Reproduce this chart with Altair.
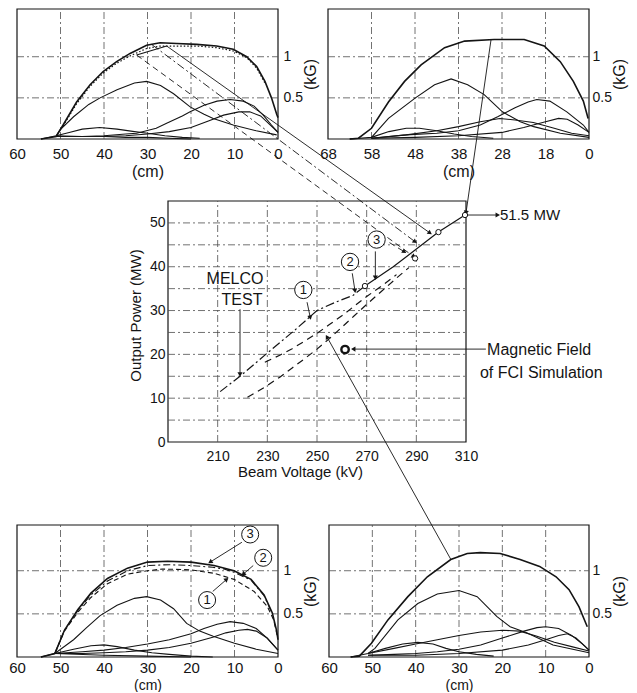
import math
import altair as alt
import pandas as pd

FONT = "Liberation Sans"
INK = "#141414"
GRID_INK = "#4e4e4e"
W, H = 621, 677

# plot-area placement of the five panels inside one frame (pixels)
TOP_LEFT_X = [9, 270]
TOP_RIGHT_X = [320, 581]
TOP_Y = [131, 1]
BOT_LEFT_X = [9, 270]
BOT_RIGHT_X = [321, 581]
BOT_Y = [649, 517]
MID_X = [160, 458]
MID_Y = [434, 193]

# ---------------- data ----------------
# top-left panel: axial position (cm) -> field (kG)
tl_total = [(54.5, 0.0), (51.0, 0.03), (49.4, 0.17), (46.3, 0.45), (43.2, 0.66), (40.2, 0.82),
            (37.1, 0.94), (34.0, 1.04), (30.2, 1.14), (27.1, 1.17), (23.3, 1.16), (18.7, 1.15),
            (14.1, 1.13), (10.3, 1.09), (7.2, 1.00), (4.9, 0.88), (3.0, 0.70), (1.5, 0.50),
            (0.3, 0.30), (0.0, 0.26)]
tl_total_dotted = [(49.4, 0.16), (46.3, 0.43), (43.2, 0.64), (40.2, 0.80), (37.1, 0.92), (34.0, 1.01),
                   (30.2, 1.10), (27.1, 1.13), (23.3, 1.13), (18.7, 1.13), (14.1, 1.11), (10.3, 1.07),
                   (7.2, 0.99), (4.9, 0.86), (3.0, 0.68)]
tl_kink = [(32.5, 1.02), (25.6, 1.13)]
tl_coil_b = [(54.5, 0.0), (51.0, 0.04), (50.1, 0.11), (47.0, 0.27), (43.5, 0.42), (40.9, 0.50),
             (37.0, 0.60), (33.0, 0.68), (30.2, 0.70), (27.0, 0.65), (24.0, 0.55), (20.2, 0.39),
             (17.0, 0.30), (14.9, 0.25), (10.3, 0.17), (5.0, 0.10), (0.3, 0.05)]
tl_coil_c = [(51.0, 0.03), (45.0, 0.03), (40.0, 0.04), (35.0, 0.06), (32.5, 0.07), (28.0, 0.13),
             (25.6, 0.19), (22.0, 0.28), (20.2, 0.33), (17.0, 0.41), (14.0, 0.46), (11.0, 0.48),
             (8.0, 0.46), (5.5, 0.40), (3.4, 0.29), (1.5, 0.17), (0.0, 0.08)]
tl_coil_d = [(51.0, 0.03), (45.0, 0.03), (40.0, 0.03), (35.0, 0.04), (30.0, 0.06), (25.0, 0.09),
             (20.0, 0.14), (16.0, 0.22), (12.5, 0.29), (9.0, 0.33), (6.5, 0.33), (4.0, 0.28),
             (2.0, 0.18), (0.0, 0.08)]
tl_coil_e = [(51.0, 0.04), (48.0, 0.08), (45.0, 0.12), (41.0, 0.14), (37.0, 0.12), (33.0, 0.09),
             (30.0, 0.07), (26.0, 0.04), (22.0, 0.02), (18.0, 0.01)]
tl_coil_f = [(51.0, 0.04), (45.0, 0.03), (40.0, 0.03), (35.0, 0.02), (30.0, 0.02), (25.0, 0.01), (20.0, 0.0)]

# top-right panel (position on the shifted scale, labels 68 ... 18, 0)
tr_total = [(55.0, 0.0), (53.0, 0.01), (50.0, 0.13), (46.1, 0.45), (42.4, 0.70), (38.6, 0.90),
            (33.2, 1.11), (28.6, 1.19), (21.8, 1.21), (14.9, 1.21), (10.3, 1.13), (6.6, 0.94),
            (3.6, 0.70), (1.3, 0.46), (0.2, 0.25)]
tr_coil_b = [(55.0, 0.0), (50.0, 0.02), (46.1, 0.25), (39.9, 0.50), (35.5, 0.66), (31.7, 0.73),
             (27.9, 0.66), (24.1, 0.54), (19.9, 0.33), (15.8, 0.21), (12.7, 0.15), (6.6, 0.07), (0.0, 0.02)]
tr_coil_c = [(50.0, 0.01), (42.0, 0.05), (35.0, 0.07), (30.0, 0.10), (25.0, 0.17), (21.0, 0.27),
             (17.0, 0.38), (14.0, 0.45), (12.0, 0.48), (9.0, 0.46), (5.1, 0.33), (1.3, 0.17), (0.0, 0.08)]
tr_coil_d = [(50.0, 0.01), (40.0, 0.02), (30.0, 0.04), (20.0, 0.08), (15.0, 0.14), (10.0, 0.21),
             (7.0, 0.25), (5.0, 0.24), (2.5, 0.17), (0.0, 0.08)]
tr_coil_f = [(50.0, 0.01), (42.0, 0.05), (35.0, 0.10), (30.0, 0.15), (25.0, 0.21), (20.5, 0.25),
             (17.0, 0.23), (12.8, 0.20), (8.0, 0.13), (4.0, 0.07), (0.0, 0.04)]
tr_coil_e = [(50.0, 0.02), (46.0, 0.09), (42.0, 0.13), (39.0, 0.13), (35.0, 0.10), (31.0, 0.06),
             (27.0, 0.03), (22.0, 0.01)]

# bottom-left panel
bl_total = [(54.5, 0.0), (51.3, 0.04), (49.1, 0.31), (46.0, 0.55), (43.0, 0.74), (39.2, 0.91),
            (34.6, 1.03), (30.0, 1.10), (25.4, 1.11), (20.0, 1.10), (14.7, 1.06), (10.1, 1.00),
            (6.2, 0.90), (3.2, 0.72), (1.3, 0.51), (0.3, 0.30), (0.0, 0.20)]
bl_case_1 = [(51.3, 0.04), (49.1, 0.30), (46.0, 0.52), (43.0, 0.69), (39.2, 0.85), (34.6, 0.96),
             (30.0, 1.00), (26.6, 1.02), (20.0, 1.01), (14.7, 0.97), (10.1, 0.90), (5.5, 0.76),
             (2.5, 0.59), (1.0, 0.43), (0.2, 0.25)]
bl_case_2 = [(51.3, 0.04), (49.1, 0.31), (46.0, 0.54), (43.0, 0.72), (39.2, 0.88), (34.6, 1.00),
             (30.0, 1.06), (25.0, 1.07), (20.0, 1.06), (15.0, 1.04), (12.4, 1.02), (10.0, 0.98),
             (6.2, 0.89), (3.2, 0.71), (1.3, 0.50)]
bl_coil_b = [(54.5, 0.0), (51.3, 0.04), (47.0, 0.20), (44.0, 0.34), (40.9, 0.48), (37.0, 0.60),
             (33.0, 0.68), (30.2, 0.70), (27.0, 0.66), (24.0, 0.56), (21.0, 0.39), (18.0, 0.30),
             (14.9, 0.24), (10.0, 0.16), (5.0, 0.09), (0.0, 0.04)]
bl_coil_c = [(51.3, 0.04), (45.0, 0.06), (40.0, 0.08), (35.0, 0.11), (30.0, 0.15), (25.0, 0.20),
             (20.0, 0.27), (17.0, 0.33), (14.0, 0.38), (11.0, 0.41), (8.0, 0.39), (5.0, 0.33),
             (2.5, 0.22), (0.0, 0.08)]
bl_coil_d = [(51.3, 0.04), (45.0, 0.04), (40.0, 0.05), (35.0, 0.06), (30.0, 0.08), (25.0, 0.11),
             (20.0, 0.16), (15.0, 0.23), (12.0, 0.28), (9.0, 0.31), (7.0, 0.32), (5.0, 0.30),
             (2.5, 0.22), (0.0, 0.08)]
bl_coil_e = [(51.3, 0.04), (47.0, 0.09), (43.0, 0.13), (40.0, 0.14), (37.0, 0.12), (33.0, 0.08),
             (29.0, 0.05), (25.0, 0.03), (20.0, 0.01), (15.0, 0.0)]
bl_coil_f = [(51.3, 0.04), (40.0, 0.02), (30.0, 0.01), (20.0, 0.0)]

# bottom-right panel
br_total = [(55.0, 0.0), (53.0, 0.01), (50.2, 0.16), (46.4, 0.43), (41.8, 0.70), (37.3, 0.93),
            (31.9, 1.13), (28.1, 1.20), (25.1, 1.21), (20.5, 1.20), (15.9, 1.13), (11.4, 1.05),
            (7.6, 0.93), (4.6, 0.78), (2.3, 0.58), (0.4, 0.35)]
br_coil_b = [(55.0, 0.0), (51.0, 0.04), (49.4, 0.10), (44.1, 0.43), (39.5, 0.62), (35.0, 0.73),
             (30.0, 0.77), (25.8, 0.70), (21.3, 0.47), (18.2, 0.35), (14.4, 0.28), (8.3, 0.14), (0.0, 0.05)]
br_coil_f = [(51.0, 0.04), (45.0, 0.10), (40.0, 0.15), (35.0, 0.20), (30.0, 0.25), (25.0, 0.29),
             (20.0, 0.31), (16.0, 0.30), (12.0, 0.24), (8.0, 0.17), (4.0, 0.12), (0.0, 0.07)]
br_coil_c = [(51.0, 0.02), (45.0, 0.03), (40.0, 0.04), (35.0, 0.06), (30.0, 0.09), (25.0, 0.14),
             (20.0, 0.22), (15.0, 0.30), (12.0, 0.34), (10.0, 0.35), (7.0, 0.33), (4.0, 0.25),
             (1.5, 0.15), (0.0, 0.08)]
br_coil_d = [(51.0, 0.02), (40.0, 0.02), (30.0, 0.04), (20.0, 0.08), (14.0, 0.14), (10.0, 0.20),
             (7.0, 0.25), (5.0, 0.27), (3.0, 0.22), (1.0, 0.13), (0.0, 0.08)]
br_coil_e = [(51.0, 0.04), (47.0, 0.10), (43.0, 0.15), (39.5, 0.17), (36.0, 0.15), (33.0, 0.10),
             (30.0, 0.06), (26.0, 0.03), (22.0, 0.01)]

# middle panel: beam voltage (kV) -> output power (MW)
melco_test = [(211.0, 11.5), (219.0, 15.0), (230.0, 20.3), (241.0, 25.5), (250.0, 30.0),
              (257.0, 31.8), (264.6, 33.5), (269.3, 35.6)]
fci_line = [(269.3, 35.6), (280.7, 40.0), (289.5, 43.8), (298.9, 47.9), (309.6, 51.8)]
sim_upper = [(229.0, 18.2), (235.0, 19.8), (240.0, 21.3), (245.0, 23.0), (250.0, 24.8), (255.0, 26.8),
             (260.0, 28.8), (265.0, 31.0), (270.0, 33.2), (276.0, 35.6), (282.0, 38.2)]
sim_lower = [(222.0, 10.2), (226.0, 11.5), (230.0, 12.9), (235.0, 14.8), (240.0, 16.9), (245.0, 19.0),
             (250.0, 21.2), (255.0, 23.6), (260.0, 26.2), (265.0, 28.8), (270.0, 31.4), (276.0, 34.4),
             (282.0, 37.4), (287.0, 39.8)]
op_points = [(269.3, 35.6), (289.5, 41.9), (298.9, 47.9), (309.6, 51.8)]
fci_field_point = [(261.3, 21.1)]

mid_arrows_solid = [((310.4, 51.8), (322.8, 51.8)),      # 51.5 MW
                    ((318.0, 21.2), (264.6, 21.2)),      # magnetic field of FCI simulation
                    ((219.0, 30.3), (219.0, 15.4)),      # MELCO TEST
                    ((246.0, 31.9), (247.3, 28.4)),      # (1)
                    ((264.2, 38.5), (265.3, 34.5)),      # (2)
                    ((273.5, 43.5), (273.5, 37.5)),      # (3)
                    ((189.4, 90.4), (295.5, 47.7)),      # from top-left panel
                    ((320.1, 91.9), (310.0, 52.3)),      # from top-right panel
                    ((304.0, -26.9), (254.0, 24.0))]     # from bottom-right panel
mid_arrows_dashed = [((177.4, 88.3), (289.0, 42.3)),
                     ((279.2, 45.5), (285.2, 43.4))]
mid_arrows_dashdot = [((183.5, 90.7), (289.5, 45.7))]
mid_circled = [(244.5, 34.7, "1"), (263.3, 41.1, "2"), (274.0, 46.2, "3")]
mid_text_mw = [(323.7, 51.8, "51.5 MW")]
mid_text_field = [(318.5, 21.0, "Magnetic Field"), (315.6, 15.7, "of FCI Simulation")]
mid_text_center = [(217.0, 37.2, "MELCO"), (219.8, 32.4, "TEST")]

bl_circled = [(6.4, 1.42, "3"), (3.4, 1.15, "2"), (16.3, 0.66, "1")]
bl_arrows = [((8.3, 1.33), (15.6, 1.10)), ((5.7, 1.06), (8.0, 0.96)), ((15.0, 0.76), (11.8, 0.90))]

CM_TICKS = [60, 50, 40, 30, 20, 10, 0]
CM_GRID = [50, 40, 30, 20, 10]
KG_TICKS = [0.5, 1]
KV_TICKS = [210, 230, 250, 270, 290, 310]
KV_GRID = [210, 230, 250, 270, 290]
MW_TICKS = [0, 10, 20, 30, 40, 50]
MW_GRID = [5, 10, 15, 20, 25, 30, 35, 40, 45, 50]


# ---------------- helpers ----------------
def curves_df(curves):
    rows = []
    for name, pts in curves.items():
        for i, (x, y) in enumerate(pts):
            rows.append({"x": x, "y": y, "curve": name, "i": i})
    return pd.DataFrame(rows)


def arrows_df(arrows, tag):
    rows = []
    for k, (p0, p1) in enumerate(arrows):
        rows.append({"x": p0[0], "y": p0[1], "curve": f"{tag}{k}", "i": 0})
        rows.append({"x": p1[0], "y": p1[1], "curve": f"{tag}{k}", "i": 1})
    return pd.DataFrame(rows)


def heads_df(arrows, sx, sy):
    rows = []
    for p0, p1 in arrows:
        dx = (p1[0] - p0[0]) * sx
        dy = -(p1[1] - p0[1]) * sy
        ang = math.degrees(math.atan2(dx, -dy)) % 360
        rows.append({"x": p1[0], "y": p1[1], "ang": ang})
    return pd.DataFrame(rows)


def build_panel(xdom, ydom, xr, yr, xaxis, yaxis, vgrid, hgrid, groups, extras_fn=None):
    xs = alt.Scale(domain=xdom, range=xr, nice=False, zero=False)
    ys = alt.Scale(domain=ydom, range=yr, nice=False, zero=False)

    def X():
        return alt.X("x:Q", scale=xs, axis=xaxis)

    def Y():
        return alt.Y("y:Q", scale=ys, axis=yaxis)

    frame = alt.Chart(pd.DataFrame({"x": [xdom[0]], "x2": [xdom[1]], "y": [ydom[0]], "y2": [ydom[1]]})
                      ).mark_rect(fillOpacity=0, stroke=INK, strokeWidth=1.2).encode(
        x=X(), x2="x2:Q", y=Y(), y2="y2:Q")
    vg = alt.Chart(pd.DataFrame({"x": vgrid, "y": [ydom[0]] * len(vgrid), "y2": [ydom[1]] * len(vgrid)})
                   ).mark_rule(color=GRID_INK, strokeWidth=0.8, strokeDash=[7, 3, 2, 3]).encode(
        x=X(), y=Y(), y2="y2:Q")
    hg = alt.Chart(pd.DataFrame({"y": hgrid, "x": [xdom[0]] * len(hgrid), "x2": [xdom[1]] * len(hgrid)})
                   ).mark_rule(color=GRID_INK, strokeWidth=0.8, strokeDash=[7, 3, 2, 3]).encode(
        y=Y(), x=X(), x2="x2:Q")
    layers = [frame, vg, hg]
    for df, style in groups:
        layers.append(alt.Chart(df).mark_line(color=INK, **style).encode(
            x=X(), y=Y(), detail="curve:N", order="i:Q"))
    if extras_fn is not None:
        layers.extend(extras_fn(X, Y))
    return alt.layer(*layers)


def small_xaxis(y_bottom, pad, title_size, title_pad, label_expr=None):
    kw = dict(orient="bottom", offset=y_bottom - H, values=CM_TICKS, grid=False, domain=False,
              ticks=False, tickSize=0, labelPadding=pad, labelFlush=False, labelFontSize=15,
              title="(cm)", titleFontSize=title_size, titlePadding=title_pad)
    if label_expr:
        kw["labelExpr"] = label_expr
    return alt.Axis(**kw)


def small_yaxis(x_right, pad):
    return alt.Axis(orient="right", offset=x_right - W, values=KG_TICKS, format=".1~f", grid=False,
                    domain=False, ticks=False, tickSize=0, labelPadding=pad, labelFontSize=14,
                    labelFlush=False, title="(kG)", titleFontSize=16, titleAngle=270,
                    titleBaseline="top", titlePadding=0)


SOLID = dict(strokeWidth=1.1)
TOTAL = dict(strokeWidth=1.6)
DASHED = dict(strokeWidth=1.1, strokeDash=[5, 3])
DASHDOT = dict(strokeWidth=1.1, strokeDash=[7, 3, 2, 3])
DOTTED = dict(strokeWidth=1.2, strokeDash=[1.5, 2])

# ---------------- panels ----------------
tl = build_panel(
    [60, 0], [0, 1.58], TOP_LEFT_X, TOP_Y,
    small_xaxis(TOP_Y[0], 7, 16, 2), small_yaxis(TOP_LEFT_X[1], 5), CM_GRID, KG_TICKS,
    [(curves_df({"t": tl_total}), TOTAL),
     (curves_df({"b": tl_coil_b, "c": tl_coil_c, "d": tl_coil_d, "e": tl_coil_e, "f": tl_coil_f,
                 "k": tl_kink}), SOLID),
     (curves_df({"td": tl_total_dotted}), DOTTED)])

tr = build_panel(
    [60, 0], [0, 1.58], TOP_RIGHT_X, TOP_Y,
    small_xaxis(TOP_Y[0], 7, 16, 2, "datum.value == 0 ? '0' : format(datum.value + 8, 'd')"),
    small_yaxis(TOP_RIGHT_X[1], 3), CM_GRID, KG_TICKS,
    [(curves_df({"t": tr_total}), TOTAL),
     (curves_df({"b": tr_coil_b, "c": tr_coil_c, "d": tr_coil_d, "e": tr_coil_e, "f": tr_coil_f}), SOLID)])


def bl_extras(X, Y):
    sx = -(BOT_LEFT_X[1] - BOT_LEFT_X[0]) / 60.0
    sy = (BOT_Y[0] - BOT_Y[1]) / 1.53
    circ = pd.DataFrame(bl_circled, columns=["x", "y", "t"])
    return [
        alt.Chart(arrows_df(bl_arrows, "a")).mark_line(color=INK, strokeWidth=0.9).encode(
            x=X(), y=Y(), detail="curve:N", order="i:Q"),
        alt.Chart(heads_df(bl_arrows, sx, sy)).mark_point(shape="triangle-up", filled=True, size=26,
                                                           color=INK, opacity=1).encode(
            x=X(), y=Y(), angle=alt.Angle("ang:Q", scale=None)),
        alt.Chart(circ).mark_point(shape="circle", filled=True, fill="white", stroke=INK, strokeWidth=1,
                                   size=290, opacity=1).encode(x=X(), y=Y()),
        alt.Chart(circ).mark_text(font=FONT, fontSize=13, color=INK).encode(x=X(), y=Y(), text="t:N"),
    ]


bl = build_panel(
    [60, 0], [0, 1.53], BOT_LEFT_X, BOT_Y,
    small_xaxis(BOT_Y[0], 3, 14, 3), small_yaxis(BOT_LEFT_X[1], 5), CM_GRID, KG_TICKS,
    [(curves_df({"t": bl_total}), TOTAL),
     (curves_df({"b": bl_coil_b, "c": bl_coil_c, "d": bl_coil_d, "e": bl_coil_e, "f": bl_coil_f}), SOLID),
     (curves_df({"1": bl_case_1}), DASHED),
     (curves_df({"2": bl_case_2}), DASHDOT)],
    bl_extras)

br = build_panel(
    [60, 0], [0, 1.53], BOT_RIGHT_X, BOT_Y,
    small_xaxis(BOT_Y[0], 3, 14, 3), small_yaxis(BOT_RIGHT_X[1], 3), CM_GRID, KG_TICKS,
    [(curves_df({"t": br_total}), TOTAL),
     (curves_df({"b": br_coil_b, "c": br_coil_c, "d": br_coil_d, "e": br_coil_e, "f": br_coil_f}), SOLID)])


def mid_extras(X, Y):
    sx = (MID_X[1] - MID_X[0]) / 120.0
    sy = (MID_Y[0] - MID_Y[1]) / 55.0
    all_arrows = mid_arrows_solid + mid_arrows_dashed + mid_arrows_dashdot
    circ = pd.DataFrame(mid_circled, columns=["x", "y", "t"])
    return [
        alt.Chart(arrows_df(mid_arrows_solid, "s")).mark_line(color=INK, strokeWidth=0.9).encode(
            x=X(), y=Y(), detail="curve:N", order="i:Q"),
        alt.Chart(arrows_df(mid_arrows_dashed, "d")).mark_line(color=INK, strokeWidth=0.9,
                                                               strokeDash=[6, 4]).encode(
            x=X(), y=Y(), detail="curve:N", order="i:Q"),
        alt.Chart(arrows_df(mid_arrows_dashdot, "c")).mark_line(color=INK, strokeWidth=0.9,
                                                                strokeDash=[8, 3, 2, 3]).encode(
            x=X(), y=Y(), detail="curve:N", order="i:Q"),
        alt.Chart(heads_df(all_arrows, sx, sy)).mark_point(shape="triangle-up", filled=True, size=26,
                                                            color=INK, opacity=1).encode(
            x=X(), y=Y(), angle=alt.Angle("ang:Q", scale=None)),
        alt.Chart(pd.DataFrame(op_points, columns=["x", "y"])).mark_point(
            shape="circle", filled=True, fill="white", stroke=INK, strokeWidth=1, size=28, opacity=1).encode(
            x=X(), y=Y()),
        alt.Chart(pd.DataFrame(fci_field_point, columns=["x", "y"])).mark_point(
            shape="circle", filled=True, fill="white", stroke=INK, strokeWidth=2.4, size=55, opacity=1).encode(
            x=X(), y=Y()),
        alt.Chart(circ).mark_point(shape="circle", filled=True, fill="white", stroke=INK, strokeWidth=1,
                                   size=300, opacity=1).encode(x=X(), y=Y()),
        alt.Chart(circ).mark_text(font=FONT, fontSize=13, color=INK).encode(x=X(), y=Y(), text="t:N"),
        alt.Chart(pd.DataFrame(mid_text_mw, columns=["x", "y", "t"])).mark_text(
            font=FONT, fontSize=15, color=INK, align="left", baseline="middle").encode(
            x=X(), y=Y(), text="t:N"),
        alt.Chart(pd.DataFrame(mid_text_field, columns=["x", "y", "t"])).mark_text(
            font=FONT, fontSize=16, color=INK, align="left", baseline="middle").encode(
            x=X(), y=Y(), text="t:N"),
        alt.Chart(pd.DataFrame(mid_text_center, columns=["x", "y", "t"])).mark_text(
            font=FONT, fontSize=16, color=INK, align="center", baseline="middle").encode(
            x=X(), y=Y(), text="t:N"),
    ]


mid_xaxis = alt.Axis(orient="bottom", offset=MID_Y[0] - H, values=KV_TICKS, grid=False, domain=False,
                     ticks=False, tickSize=0, labelPadding=7, labelFlush=False, labelFontSize=14,
                     title="Beam Voltage (kV)", titleFontSize=15, titlePadding=1, titleX=292)
mid_yaxis = alt.Axis(orient="left", offset=-MID_X[0], values=MW_TICKS, grid=False, domain=False,
                     ticks=False, tickSize=0, labelPadding=3, labelFlush=False, labelFontSize=14,
                     title="Output Power (MW)", titleFontSize=15, titlePadding=6, titleY=307)

mid = build_panel(
    [190, 310], [0, 55], MID_X, MID_Y, mid_xaxis, mid_yaxis, KV_GRID, MW_GRID,
    [(curves_df({"fci": fci_line}), dict(strokeWidth=1.2)),
     (curves_df({"melco": melco_test}), dict(strokeWidth=1.2, strokeDash=[9, 3, 2, 3])),
     (curves_df({"up": sim_upper, "lo": sim_lower}), dict(strokeWidth=1.2, strokeDash=[7, 5]))],
    mid_extras)

chart = alt.layer(tl, tr, bl, br, mid).resolve_scale(
    x="independent", y="independent").resolve_axis(x="independent", y="independent").properties(
    width=W, height=H, padding=0).configure_view(stroke=None).configure_axis(
    labelFont=FONT, titleFont=FONT, labelColor=INK, titleColor=INK, titleFontWeight="normal")

chart.save("out.html", embed_options={"renderer": "svg", "actions": False})
